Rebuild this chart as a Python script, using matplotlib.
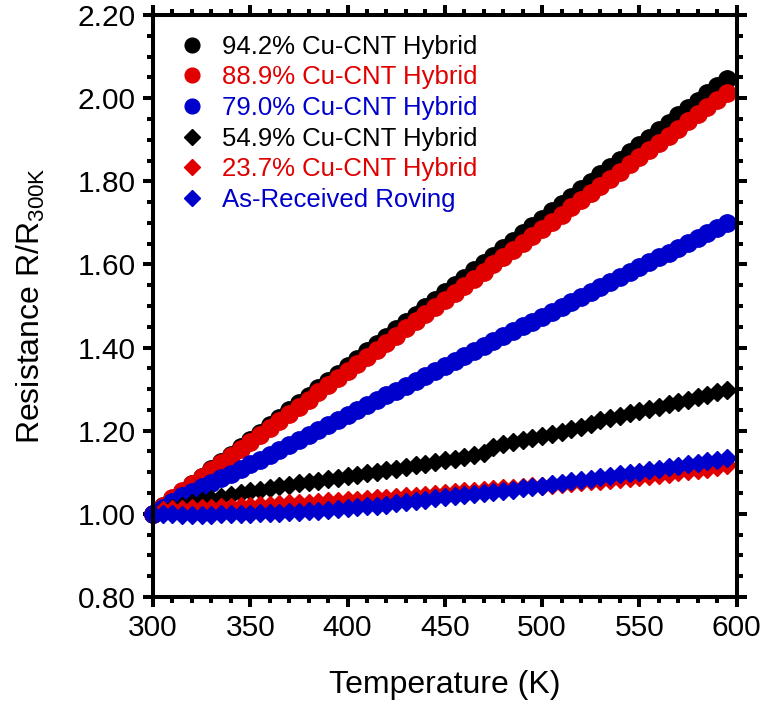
import matplotlib
matplotlib.use("Agg")
import matplotlib.pyplot as plt
from matplotlib.ticker import MultipleLocator, FormatStrFormatter

plt.rcParams['font.family'] = ['Liberation Sans', 'DejaVu Sans']
plt.rcParams['mathtext.default'] = 'regular'

# temperature (K)
T = [300, 305, 310, 315, 320, 325, 330, 335, 340, 345,
     350, 355, 360, 365, 370, 375, 380, 385, 390, 395,
     400, 405, 410, 415, 420, 425, 430, 435, 440, 445,
     450, 455, 460, 465, 470, 475, 480, 485, 490, 495,
     500, 505, 510, 515, 520, 525, 530, 535, 540, 545,
     550, 555, 560, 565, 570, 575, 580, 585, 590, 595]

# R / R300K
cu942 = [1.000, 1.018, 1.036, 1.053, 1.071, 1.089, 1.107, 1.124, 1.142, 1.160,
         1.178, 1.195, 1.213, 1.231, 1.249, 1.266, 1.284, 1.302, 1.320, 1.337,
         1.355, 1.373, 1.391, 1.408, 1.426, 1.444, 1.462, 1.479, 1.497, 1.515,
         1.533, 1.550, 1.568, 1.586, 1.604, 1.621, 1.639, 1.657, 1.675, 1.692,
         1.710, 1.728, 1.746, 1.763, 1.781, 1.799, 1.817, 1.834, 1.852, 1.870,
         1.888, 1.905, 1.923, 1.941, 1.959, 1.976, 1.994, 2.012, 2.030, 2.047]
cu889 = [1.000, 1.019, 1.037, 1.054, 1.071, 1.088, 1.105, 1.122, 1.139, 1.156,
         1.173, 1.190, 1.207, 1.224, 1.241, 1.258, 1.275, 1.292, 1.309, 1.326,
         1.343, 1.360, 1.377, 1.395, 1.412, 1.429, 1.446, 1.463, 1.480, 1.497,
         1.515, 1.532, 1.549, 1.566, 1.583, 1.600, 1.618, 1.635, 1.652, 1.669,
         1.686, 1.703, 1.720, 1.738, 1.755, 1.772, 1.789, 1.806, 1.823, 1.841,
         1.858, 1.875, 1.892, 1.909, 1.926, 1.944, 1.961, 1.978, 1.995, 2.012]
cu790 = [1.000, 1.015, 1.029, 1.042, 1.053, 1.064, 1.075, 1.086, 1.097, 1.108,
         1.119, 1.130, 1.142, 1.154, 1.166, 1.178, 1.190, 1.202, 1.213, 1.225,
         1.237, 1.249, 1.261, 1.273, 1.285, 1.296, 1.308, 1.320, 1.332, 1.344,
         1.356, 1.368, 1.379, 1.391, 1.403, 1.415, 1.427, 1.439, 1.451, 1.462,
         1.474, 1.486, 1.498, 1.510, 1.522, 1.534, 1.545, 1.557, 1.569, 1.581,
         1.593, 1.605, 1.617, 1.628, 1.640, 1.652, 1.664, 1.676, 1.688, 1.700]
cu549 = [1.000, 1.010, 1.015, 1.020, 1.025, 1.030, 1.035, 1.040, 1.045, 1.050,
         1.054, 1.058, 1.062, 1.066, 1.070, 1.074, 1.077, 1.080, 1.084, 1.087,
         1.090, 1.094, 1.098, 1.101, 1.105, 1.109, 1.113, 1.117, 1.121, 1.125,
         1.129, 1.133, 1.137, 1.141, 1.146, 1.162, 1.167, 1.172, 1.177, 1.182,
         1.187, 1.193, 1.198, 1.204, 1.210, 1.217, 1.225, 1.231, 1.236, 1.242,
         1.247, 1.252, 1.258, 1.264, 1.269, 1.275, 1.281, 1.287, 1.293, 1.298]
cu237 = [1.000, 1.010, 1.012, 1.012, 1.013, 1.014, 1.015, 1.016, 1.017, 1.019,
         1.020, 1.021, 1.022, 1.023, 1.025, 1.026, 1.027, 1.028, 1.030, 1.031,
         1.033, 1.034, 1.036, 1.037, 1.039, 1.041, 1.042, 1.044, 1.046, 1.048,
         1.050, 1.052, 1.054, 1.056, 1.058, 1.059, 1.061, 1.063, 1.064, 1.066,
         1.068, 1.070, 1.072, 1.074, 1.076, 1.078, 1.080, 1.082, 1.084, 1.087,
         1.089, 1.092, 1.094, 1.097, 1.100, 1.103, 1.106, 1.109, 1.113, 1.117]
roving = [1.000, 1.000, 0.999, 0.998, 0.998, 0.998, 0.998, 0.999, 0.999, 1.000,
          1.000, 1.001, 1.002, 1.003, 1.004, 1.005, 1.007, 1.008, 1.010, 1.012,
          1.013, 1.016, 1.018, 1.020, 1.022, 1.025, 1.028, 1.031, 1.034, 1.037,
          1.040, 1.042, 1.045, 1.047, 1.050, 1.052, 1.055, 1.058, 1.061, 1.064,
          1.068, 1.071, 1.075, 1.078, 1.082, 1.085, 1.088, 1.092, 1.095, 1.098,
          1.101, 1.105, 1.108, 1.112, 1.115, 1.119, 1.122, 1.126, 1.130, 1.135]

series = [(cu942, 'o', 'black', '94.2% Cu-CNT Hybrid'),
          (cu889, 'o', '#e00000', '88.9% Cu-CNT Hybrid'),
          (cu790, 'o', '#0000cc', '79.0% Cu-CNT Hybrid'),
          (cu549, 'D', 'black', '54.9% Cu-CNT Hybrid'),
          (cu237, 'D', '#e00000', '23.7% Cu-CNT Hybrid'),
          (roving, 'D', '#0000cc', 'As-Received Roving')]

fig = plt.figure(figsize=(7.61, 7.02), dpi=100)
ax = fig.add_axes([0.201, 0.1496, 0.767, 0.829])

for y, m, c, lab in series:
    ms = 12.5 if m == 'o' else 9
    ax.plot(T, y, m, color=c, ms=ms, mec=c, label=lab, clip_on=False)

ax.set_xlim(300, 600)
ax.set_ylim(0.80, 2.20)
ax.xaxis.set_major_locator(MultipleLocator(50))
ax.xaxis.set_minor_locator(MultipleLocator(10))
ax.yaxis.set_major_locator(MultipleLocator(0.2))
ax.yaxis.set_minor_locator(MultipleLocator(0.05))
ax.yaxis.set_major_formatter(FormatStrFormatter('%.2f'))

for s in ax.spines.values():
    s.set_linewidth(2.9)
ax.tick_params(which='both', direction='out', top=True, right=True, width=2.9,
               labelsize=21.5)
ax.tick_params(which='major', length=7.5, pad=5)
ax.tick_params(which='minor', length=4)

ax.set_xlabel('Temperature (K)', fontsize=23, labelpad=20)
ax.set_ylabel('Resistance R/R$_{300K}$', fontsize=23, labelpad=22)

leg = ax.legend(loc='upper left', frameon=False, fontsize=18.5, handletextpad=0.6,
                labelspacing=0.26, borderaxespad=0.5, handlelength=1.2,
                bbox_to_anchor=(0.0, 1.006), markerscale=0.85)
for txt, (y, m, c, lab) in zip(leg.get_texts(), series):
    txt.set_color(c)

fig.savefig('out.png', dpi=100)
